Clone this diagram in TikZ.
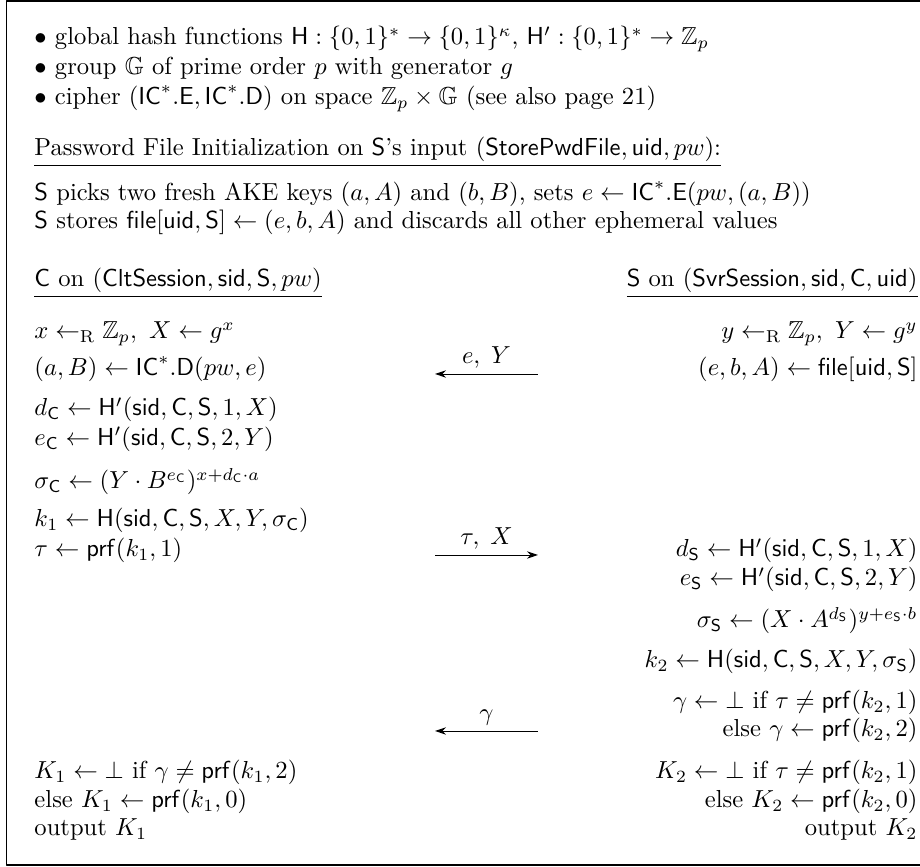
\documentclass[tikz,border=0pt]{standalone}
\usepackage{amsmath,amssymb,amsfonts}
\usepackage{tikz}
\usetikzlibrary{arrows.meta}

\newcommand{\Hash}{\mathsf{H}}
\newcommand{\Srv}{\mathsf{S}}
\newcommand{\Clt}{\mathsf{C}}
\newcommand{\IC}{\mathsf{IC}}
\newcommand{\prf}{\mathsf{prf}}
\newcommand{\sid}{\mathsf{sid}}
\newcommand{\uid}{\mathsf{uid}}
\newcommand{\pwfile}{\mathsf{file}}

\begin{document}
\begin{tikzpicture}[x=0.4065pt, y=-0.4065pt, line join=round, >={Stealth[length=4.5pt,width=3pt]},
 lft/.style={anchor=base west, inner sep=0pt},
 rgt/.style={anchor=base east, inner sep=0pt},
 msg/.style={above, inner sep=2pt}]
 % Frame
 \useasboundingbox (0,0) rectangle (920,867);
 \clip (0,0) rectangle (920,867);
 \draw[line width=0.7pt] (960,1) -- (6.5,1) -- (6.5,865) -- (960,865);
 % Global setup
 \node[lft] (bul1) at (34,45) {$\bullet$ global hash functions $\Hash:\{0,1\}^*\to\{0,1\}^\kappa$, $\Hash':\{0,1\}^*\to\mathbb{Z}_p$};
 \node[lft] (bul2) at (34,75) {$\bullet$ group $\mathbb{G}$ of prime order $p$ with generator $g$};
 \node[lft] (bul3) at (34,105) {$\bullet$ cipher $(\IC^*.\mathsf{E},\IC^*.\mathsf{D})$ on space $\mathbb{Z}_p\times\mathbb{G}$ (see also page 21)};
 % Password file
 \node[lft] (pwdhead) at (34,156) {\underline{Password File Initialization on $\Srv$'s input $(\mathsf{StorePwdFile},\uid,pw)$:}};
 \node[lft] (pwd1) at (34,200.5) {$\Srv$ picks two fresh AKE keys $(a,A)$ and $(b,B)$, sets $e\leftarrow\IC^*.\mathsf{E}(pw,(a,B))$};
 \node[lft] (pwd2) at (34,228.5) {$\Srv$ stores $\pwfile[\uid,\Srv]\leftarrow(e,b,A)$ and discards all other ephemeral values};
 % Client
 \node[lft] (clthead) at (34,287) {\underline{$\Clt$ on $(\mathsf{CltSession},\sid,\Srv,pw)$}};
 \node[lft] (c1) at (34,339) {$x\leftarrow_{\mathrm{R}}\mathbb{Z}_p,\ X\leftarrow g^x$};
 \node[lft] (c2) at (34,376) {$(a,B)\leftarrow\IC^*.\mathsf{D}(pw,e)$};
 \node[lft] (c3) at (34,416) {$d_\Clt\leftarrow\Hash'(\sid,\Clt,\Srv,1,X)$};
 \node[lft] (c4) at (34,445.5) {$e_\Clt\leftarrow\Hash'(\sid,\Clt,\Srv,2,Y)$};
 \node[lft] (c5) at (34,489) {$\sigma_\Clt\leftarrow(Y\cdot B^{e_\Clt})^{x+d_\Clt\cdot a}$};
 \node[lft] (c6) at (34,527) {$k_1\leftarrow\Hash(\sid,\Clt,\Srv,X,Y,\sigma_\Clt)$};
 \node[lft] (c7) at (34,557) {$\tau\leftarrow\prf(k_1,1)$};
 \node[lft] (c8) at (34,779) {$K_1\leftarrow\bot$ if $\gamma\neq\prf(k_1,2)$};
 \node[lft] (c9) at (34,808) {else $K_1\leftarrow\prf(k_1,0)$};
 \node[lft] (c10) at (34,836) {output $K_1$};
 % Server
 \node[rgt] (srvhead) at (918,287) {\underline{$\Srv$ on $(\mathsf{SvrSession},\sid,\Clt,\uid)$}};
 \node[rgt] (s1) at (918,339) {$y\leftarrow_{\mathrm{R}}\mathbb{Z}_p,\ Y\leftarrow g^y$};
 \node[rgt] (s2) at (918,376) {$(e,b,A)\leftarrow\pwfile[\uid,\Srv]$};
 \node[rgt] (s3) at (918,557) {$d_\Srv\leftarrow\Hash'(\sid,\Clt,\Srv,1,X)$};
 \node[rgt] (s4) at (918,586) {$e_\Srv\leftarrow\Hash'(\sid,\Clt,\Srv,2,Y)$};
 \node[rgt] (s5) at (918,628) {$\sigma_\Srv\leftarrow(X\cdot A^{d_\Srv})^{y+e_\Srv\cdot b}$};
 \node[rgt] (s6) at (918,668) {$k_2\leftarrow\Hash(\sid,\Clt,\Srv,X,Y,\sigma_\Srv)$};
 \node[rgt] (s7) at (918,709) {$\gamma\leftarrow\bot$ if $\tau\neq\prf(k_2,1)$};
 \node[rgt] (s8) at (918,737) {else $\gamma\leftarrow\prf(k_2,2)$};
 \node[rgt] (s9) at (918,779) {$K_2\leftarrow\bot$ if $\tau\neq\prf(k_2,1)$};
 \node[rgt] (s10) at (918,808) {else $K_2\leftarrow\prf(k_2,0)$};
 \node[rgt] (s11) at (918,836) {output $K_2$};
 % Messages
 \coordinate (m1l) at (435,374);
 \coordinate (m1r) at (538,374);
 \draw[<-] (m1l) -- node[msg] (m1) {$e,\;Y$} (m1r);
 \coordinate (m2l) at (435,555);
 \coordinate (m2r) at (538,555);
 \draw[->] (m2l) -- node[msg] (m2) {$\tau,\;X$} (m2r);
 \coordinate (m3l) at (435,731);
 \coordinate (m3r) at (538,731);
 \draw[<-] (m3l) -- node[msg] (m3) {$\gamma$} (m3r);
\end{tikzpicture}
\end{document}
